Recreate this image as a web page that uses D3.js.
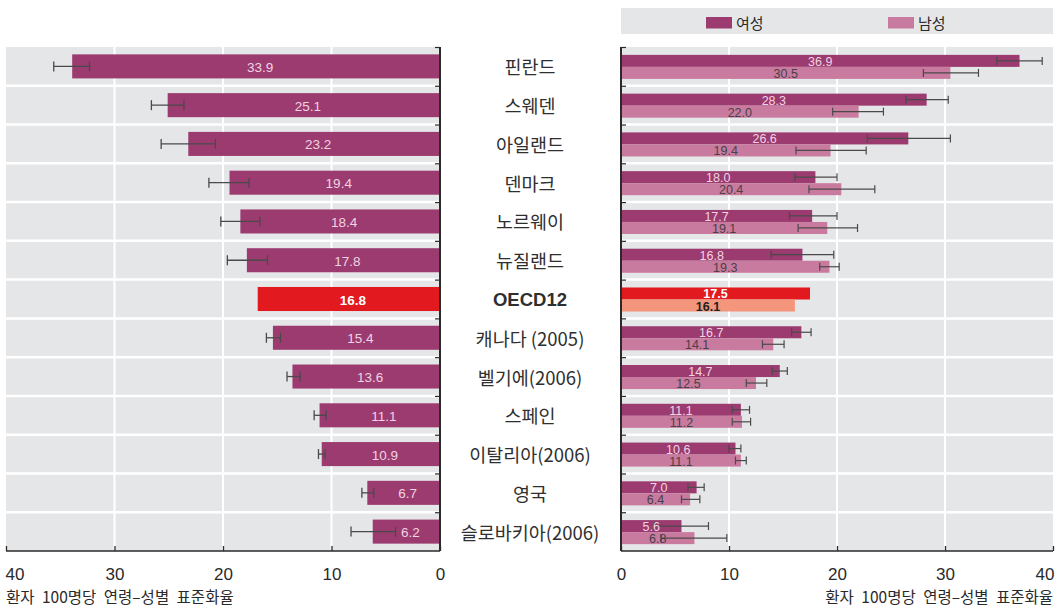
<!DOCTYPE html>
<html><head><meta charset="utf-8">
<script src="https://cdn.jsdelivr.net/npm/d3@7"></script>
<style>body{margin:0;background:#fff}</style>
</head><body><svg id="c" width="1058" height="607"></svg>
<script>
const countries = ["핀란드","스웨덴","아일랜드","덴마크","노르웨이","뉴질랜드","OECD12","캐나다 (2005)","벨기에(2006)","스페인","이탈리아(2006)","영국","슬로바키아(2006)"];
const totalValues = [33.9,25.1,23.2,19.4,18.4,17.8,16.8,15.4,13.6,11.1,10.9,6.7,6.2];
const totalLow  = [32.3,23.6,20.7,17.6,16.6,15.9,null,14.7,12.9,10.5,10.6,6.1,4.1];
const totalHigh = [35.6,26.6,25.7,21.3,20.2,19.6,null,16.0,14.1,11.6,11.2,7.2,8.2];
const femaleValues = [36.9,28.3,26.6,18.0,17.7,16.8,17.5,16.7,14.7,11.1,10.6,7.0,5.6];
const femaleLow  = [34.8,26.4,22.8,16.1,15.6,13.9,null,15.8,14.0,10.3,10.0,6.2,3.1];
const femaleHigh = [39.0,30.3,30.5,20.0,20.0,19.7,null,17.6,15.4,11.9,11.1,7.7,8.1];
const maleValues = [30.5,22.0,19.4,20.4,19.1,19.3,16.1,14.1,12.5,11.2,11.1,6.4,6.8];
const maleLow  = [28.0,19.6,16.2,17.4,16.4,18.4,null,13.1,11.6,10.3,10.6,5.6,3.7];
const maleHigh = [33.1,24.3,22.7,23.5,21.9,20.2,null,15.1,13.5,12.0,11.6,7.3,9.8];
const tickValues = [0,10,20,30,40];
const seriesNames = ["여성","남성"];
const axisTitle = "환자 100명당 연령–성별 표준화율";
const highlight = "OECD12";

const C = {bg:"#e5e6e8", fem:"#9c3b6f", male:"#c97a9f", red:"#e2191f", salmon:"#f4967c", axis:"#2a2a2a", err:"#4a4a4a"};
const numFont = "'Liberation Sans Narrow','Arial Narrow','Liberation Sans',sans-serif";
const krFont = "'Noto Sans CJK KR','Noto Sans',sans-serif";

const svg = d3.select("#c");
const topY = 47, bottomY = 551;
const y = d3.scaleBand(countries, [topY, bottomY]);
const step = y.step();
const xL = d3.scaleLinear([0,40],[440,6]);
const xR = d3.scaleLinear([0,40],[621,1053]);

function panel(x){
  const x0 = Math.min(x.range()[0], x.range()[1]), x1 = Math.max(x.range()[0], x.range()[1]);
  const g = svg.append("g");
  g.append("rect").attr("x",x0).attr("y",topY).attr("width",x1-x0).attr("height",bottomY-topY).attr("fill",C.bg);
  g.selectAll(".vg").data(tickValues.filter(t=>t>0&&t<40)).join("line")
    .attr("x1",d=>x(d)).attr("x2",d=>x(d)).attr("y1",topY).attr("y2",bottomY)
    .attr("stroke","#fff").attr("stroke-width",2);
  g.selectAll(".hs").data(countries.slice(1)).join("line")
    .attr("x1",x0).attr("x2",x1).attr("y1",d=>y(d)).attr("y2",d=>y(d))
    .attr("stroke","#fff").attr("stroke-width",2.5);
  return g;
}
panel(xL); panel(xR);

// Left bars
const bh = step*0.62;
const gLB = svg.append("g");
countries.forEach((c,i)=>{
  const cy = y(c)+step/2;
  const v = totalValues[i];
  const hl = c===highlight;
  gLB.append("rect").attr("x",xL(v)).attr("y",cy-bh/2).attr("width",xL(0)-xL(v)).attr("height",bh)
    .attr("fill",hl?C.red:C.fem);
  if(totalLow[i]!=null){
    const e = gLB.append("g").attr("stroke",C.err).attr("stroke-width",1.3);
    e.append("line").attr("x1",xL(totalLow[i])).attr("x2",xL(totalHigh[i])).attr("y1",cy).attr("y2",cy);
    [totalLow[i],totalHigh[i]].forEach(t=>e.append("line").attr("x1",xL(t)).attr("x2",xL(t)).attr("y1",cy-5).attr("y2",cy+5));
  }
  gLB.append("text").attr("x",(xL(v)+xL(0))/2+4).attr("y",cy+1).attr("dominant-baseline","central")
    .attr("text-anchor","middle").attr("font-family",numFont).attr("font-size",13.5)
    .attr("font-weight",hl?"bold":"normal").attr("fill",hl?"#fff":"#f2d3e3").text(v.toFixed(1));
});

// Right bars
const sh = bh/2;
const gRB = svg.append("g");
countries.forEach((c,i)=>{
  const cy = y(c)+step/2 + 0.5;
  const hl = c===highlight;
  const rows = [
    {v:femaleValues[i], lo:femaleLow[i], hi:femaleHigh[i], yy:cy-sh, fill:hl?C.red:C.fem, tc:hl?"#fff":"#f2d3e3"},
    {v:maleValues[i], lo:maleLow[i], hi:maleHigh[i], yy:cy, fill:hl?C.salmon:C.male, tc:hl?"#222":"#4a4047"}
  ];
  rows.forEach(r=>{
    gRB.append("rect").attr("x",xR(0)).attr("y",r.yy).attr("width",xR(r.v)-xR(0)).attr("height",sh).attr("fill",r.fill);
  });
  rows.forEach(r=>{
    const my = r.yy+sh/2;
    if(r.lo!=null){
      const e = gRB.append("g").attr("stroke",C.err).attr("stroke-width",1.2);
      e.append("line").attr("x1",xR(r.lo)).attr("x2",xR(r.hi)).attr("y1",my).attr("y2",my);
      [r.lo,r.hi].forEach(t=>e.append("line").attr("x1",xR(t)).attr("x2",xR(t)).attr("y1",my-4).attr("y2",my+4));
    }
  });
  rows.forEach(r=>{
    const my = r.yy+sh/2;
    gRB.append("text").attr("x",(xR(0)+xR(r.v))/2).attr("y",my+1).attr("dominant-baseline","central")
      .attr("text-anchor","middle").attr("font-family",numFont).attr("font-size",12.5)
      .attr("font-weight",hl?"bold":"normal").attr("fill",r.tc).text(r.v.toFixed(1));
  });
});

// Axes
function axes(x, side){
  const g = svg.append("g").attr("transform",`translate(0,${bottomY})`);
  const ax = d3.axisBottom(x).tickValues(tickValues).tickSize(-5).tickFormat(d3.format("d"));
  g.call(ax);
  g.select(".domain").attr("stroke",C.axis).attr("stroke-width",1.6).attr("d",`M${x.range()[0]},0H${x.range()[1]}`);
  g.selectAll(".tick line").attr("stroke",C.axis).attr("stroke-width",1.3);
  g.selectAll(".tick text").attr("font-family","'Liberation Sans',Arial,sans-serif").attr("font-size",17)
    .attr("fill","#2a2a2a").attr("dy",0).attr("y",29)
    .attr("text-anchor",d=> d===40 ? (side==="left"?"start":"end") : "middle")
    .attr("dx",d=> d===40 ? (side==="left"?-1:1) : 0);
  const zx = x(0);
  const vg = svg.append("g");
  vg.append("line").attr("x1",zx).attr("x2",zx).attr("y1",topY).attr("y2",bottomY).attr("stroke",C.axis).attr("stroke-width",2);
  const dir = side==="left"?-1:1;
  vg.selectAll("line.t").data(countries).join("line").attr("class","t")
    .attr("x1",zx).attr("x2",zx+dir*5).attr("y1",d=>y(d)+0.5).attr("y2",d=>y(d)+0.5)
    .attr("stroke",C.axis).attr("stroke-width",1.2);
}
axes(xL,"left");
axes(xR,"right");

// Axis titles
svg.append("text").attr("x",6).attr("y",603).attr("font-family",krFont).attr("font-size",15.5).attr("word-spacing",4).attr("fill","#2a2a2a").text(axisTitle);
svg.append("text").attr("x",1053).attr("y",603).attr("text-anchor","end").attr("font-family",krFont).attr("font-size",15.5).attr("word-spacing",4).attr("fill","#2a2a2a").text(axisTitle);

// Center labels
svg.append("g").selectAll("text").data(countries).join("text")
  .attr("x",530).attr("y",d=>y(d)+step/2).attr("dominant-baseline","central").attr("text-anchor","middle")
  .attr("font-family",d=>d===highlight?"'Liberation Sans',Arial,sans-serif":krFont)
  .attr("font-size",18.5).attr("font-weight",d=>d===highlight?"bold":"normal").attr("fill","#2f2f2f")
  .text(d=>d);

// Legend
const lg = svg.append("g");
lg.append("rect").attr("x",621).attr("y",8).attr("width",432).attr("height",26).attr("fill",C.bg);
const legX = [706, 888];
const legC = [C.fem, C.male];
seriesNames.forEach((s,i)=>{
  lg.append("rect").attr("x",legX[i]).attr("y",17).attr("width",26).attr("height",11.5).attr("fill",legC[i]);
  lg.append("text").attr("x",legX[i]+30).attr("y",22.5).attr("dominant-baseline","central")
    .attr("font-family",krFont).attr("font-size",15).attr("fill","#2a2a2a").text(s);
});
</script></body></html>
